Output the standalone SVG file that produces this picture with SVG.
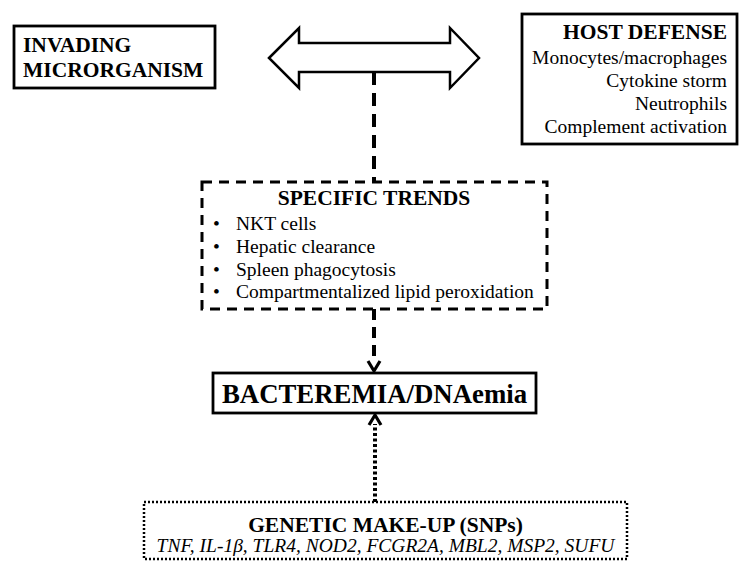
<svg xmlns="http://www.w3.org/2000/svg" width="750" height="577" viewBox="0 0 750 577">
<style>
.t{font-family:"Liberation Serif","Times New Roman",serif;fill:#000}
.h{font-weight:bold;font-size:21.5px}
.r{font-size:19.5px}
.box{fill:#fff;stroke:#000;stroke-width:2.8}
</style>
<defs>
<marker id="chev" viewBox="0 0 12 12" refX="6" refY="1" markerWidth="12" markerHeight="12" markerUnits="userSpaceOnUse" orient="auto-start-reverse">
<path d="M0 10 L6 1 L12 10" fill="none" stroke="#000" stroke-width="3"/>
</marker>
</defs>
<rect width="750" height="577" fill="#fff"/>
<g id="connectors">
<path d="M374 72 V182" stroke="#000" stroke-width="4" stroke-dasharray="13 8" fill="none"/>
<path d="M374 309 V362" stroke="#000" stroke-width="4" stroke-dasharray="11 7" fill="none"/>
<path d="M368 361 L374 371 L380 361" fill="none" stroke="#000" stroke-width="3.2"/>
<path d="M375 502 V424" stroke="#000" stroke-width="4" stroke-dasharray="3 2.5" fill="none"/>
<path d="M369 425 L375 415 L381 425" fill="none" stroke="#000" stroke-width="3.2"/>
</g>
<g id="double-arrow">
<path d="M269 58 L299 28 V43 H450 V28 L479 58 L450 88 V72 H299 V88 Z" fill="#fff" stroke="#000" stroke-width="2.5" stroke-linejoin="miter"/>
</g>
<g id="invading">
<rect class="box" x="14" y="26" width="201" height="62"/>
<text class="t h" x="23" y="52">INVADING</text>
<text class="t h" x="23" y="77">MICRORGANISM</text>
</g>
<g id="host-defense">
<rect class="box" x="522" y="14" width="215" height="130"/>
<text class="t h" x="727" y="39" text-anchor="end">HOST DEFENSE</text>
<text class="t r" x="727" y="64" text-anchor="end">Monocytes/macrophages</text>
<text class="t r" x="727" y="87" text-anchor="end">Cytokine storm</text>
<text class="t r" x="727" y="110" text-anchor="end">Neutrophils</text>
<text class="t r" x="727" y="133" text-anchor="end">Complement activation</text>
</g>
<g id="specific-trends">
<rect x="202" y="182" width="345" height="127" fill="#fff" stroke="#000" stroke-width="3" stroke-dasharray="10 7"/>
<text class="t h" x="374" y="205" text-anchor="middle">SPECIFIC TRENDS</text>
<text class="t r" x="213" y="230">•</text>
<text class="t r" x="236" y="230">NKT cells</text>
<text class="t r" x="213" y="253">•</text>
<text class="t r" x="236" y="253">Hepatic clearance</text>
<text class="t r" x="213" y="276">•</text>
<text class="t r" x="236" y="276">Spleen phagocytosis</text>
<text class="t r" x="213" y="298">•</text>
<text class="t r" x="236" y="298">Compartmentalized lipid peroxidation</text>
</g>
<g id="bacteremia">
<rect class="box" x="213" y="373" width="323" height="40"/>
<text class="t" x="374.5" y="403" text-anchor="middle" font-weight="bold" font-size="26.8px">BACTEREMIA/DNAemia</text>
</g>
<g id="genetic">
<rect x="144" y="502" width="483" height="57" fill="#fff" stroke="#000" stroke-width="2.5" stroke-dasharray="2 2"/>
<text class="t h" x="385.5" y="532" text-anchor="middle">GENETIC MAKE-UP (SNPs)</text>
<text class="t r" x="385.5" y="552" text-anchor="middle" font-style="italic">TNF, IL-1β, TLR4, NOD2, FCGR2A, MBL2, MSP2, SUFU</text>
</g>
</svg>
